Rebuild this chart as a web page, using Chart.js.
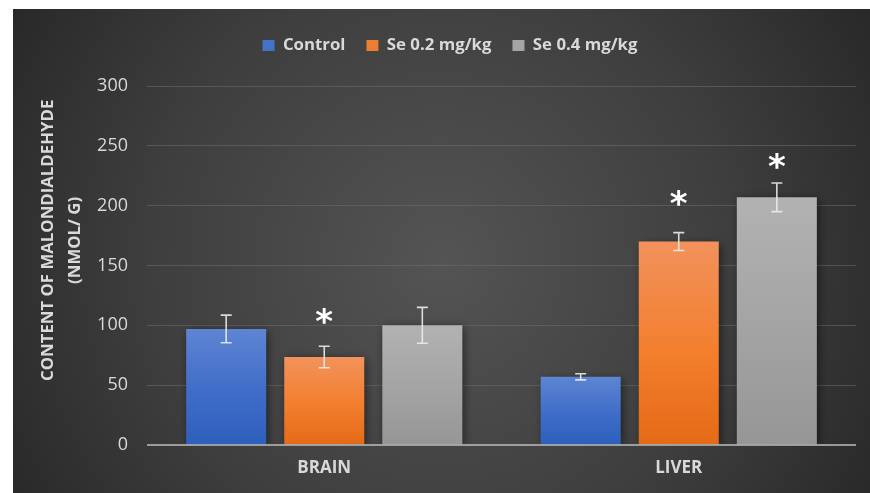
<!DOCTYPE html>
<html>
<head>
<meta charset="utf-8">
<script src="https://cdn.jsdelivr.net/npm/chart.js@4/dist/chart.umd.min.js"></script>
<style>
  html, body { margin: 0; padding: 0; background: #ffffff; }
  body { width: 870px; height: 493px; position: relative; overflow: hidden; }
  #panel { position: absolute; left: 13px; top: 9px; width: 857px; height: 484px; }
</style>
</head>
<body>
<div id="panel"><canvas id="chart"></canvas></div>
<script>
// Malondialdehyde content by tissue and selenium dose
const categories = ['BRAIN', 'LIVER'];
const seriesNames = ['Control', 'Se 0.2 mg/kg', 'Se 0.4 mg/kg'];
const controlValues = [97, 57];
const se02Values = [73.5, 170];
const se04Values = [100, 207];
const controlErrors = [11.5, 2.6];
const se02Errors = [9, 7.5];
const se04Errors = [15, 12];
// value at which a significance asterisk is placed (null = none)
const controlStars = [null, null];
const se02Stars = [108, 207];
const se04Stars = [null, 238];
const yTicks = [0, 50, 100, 150, 200, 250, 300];
const axisTitle = ['CONTENT OF MALONDIALDEHYDE', '(NMOL/ G)'];

const palette = [
  { solid: '#4472c4', top: '#5d85d3', mid: '#3f6cc8', bottom: '#2d5fbd' },
  { solid: '#ed7d31', top: '#f2925c', mid: '#f37e2c', bottom: '#e46a17' },
  { solid: '#a5a5a5', top: '#b2b2b2', mid: '#a3a3a3', bottom: '#969696' }
];
const textColor = '#d9d9d9';
const FONT = '"Open Sans", sans-serif';

function barFill(idx) {
  return (ctx) => {
    const chart = ctx.chart;
    if (!chart.chartArea || ctx.dataIndex === undefined || !chart.scales.y) return palette[idx].solid;
    const ys = chart.scales.y;
    const top = ys.getPixelForValue(ctx.raw);
    const bot = ys.getPixelForValue(0);
    if (!isFinite(top) || !isFinite(bot) || top === bot) return palette[idx].solid;
    const g = chart.ctx.createLinearGradient(0, top, 0, bot);
    g.addColorStop(0, palette[idx].top);
    g.addColorStop(0.55, palette[idx].mid);
    g.addColorStop(1, palette[idx].bottom);
    return g;
  };
}

const errorSets = [controlErrors, se02Errors, se04Errors];
const starSets = [controlStars, se02Stars, se04Stars];

const backgroundPlugin = {
  id: 'panelBackground',
  beforeDraw(chart) {
    const { ctx, width, height } = chart;
    ctx.save();
    const g = ctx.createRadialGradient(width * 0.5, height * 0.52, 0, width * 0.5, height * 0.52, width * 0.62);
    g.addColorStop(0, '#545454');
    g.addColorStop(0.55, '#3e3e3e');
    g.addColorStop(1, '#252525');
    ctx.fillStyle = g;
    ctx.fillRect(0, 0, width, height);
    ctx.restore();
  }
};

const shadowPlugin = {
  id: 'barShadow',
  beforeDatasetsDraw(chart) {
    const ctx = chart.ctx;
    ctx.save();
    ctx.shadowColor = 'rgba(0,0,0,0.55)';
    ctx.shadowBlur = 9;
    ctx.shadowOffsetX = 2;
    ctx.shadowOffsetY = 2;
  },
  afterDatasetsDraw(chart) {
    chart.ctx.restore();
  }
};

const overlayPlugin = {
  id: 'errorBarsAndMarks',
  afterDatasetsDraw(chart) {
    const { ctx, chartArea } = chart;
    const ys = chart.scales.y;
    ctx.save();
    // baseline
    const y0 = ys.getPixelForValue(0);
    ctx.strokeStyle = 'rgba(190,190,190,0.75)';
    ctx.lineWidth = 2;
    ctx.beginPath();
    ctx.moveTo(chartArea.left, y0);
    ctx.lineTo(chartArea.right, y0);
    ctx.stroke();

    chart.data.datasets.forEach((ds, i) => {
      const meta = chart.getDatasetMeta(i);
      meta.data.forEach((bar, j) => {
        const v = ds.data[j];
        const e = errorSets[i][j];
        const x = bar.x;
        const yt = ys.getPixelForValue(v + e);
        const yb = ys.getPixelForValue(v - e);
        ctx.strokeStyle = 'rgba(235,235,235,0.9)';
        ctx.lineWidth = 1.6;
        ctx.beginPath();
        ctx.moveTo(x, yt); ctx.lineTo(x, yb);
        ctx.moveTo(x - 5.5, yt); ctx.lineTo(x + 5.5, yt);
        ctx.moveTo(x - 5.5, yb); ctx.lineTo(x + 5.5, yb);
        ctx.stroke();

        const s = starSets[i][j];
        if (s !== null && s !== undefined) {
          const sy = ys.getPixelForValue(s);
          ctx.fillStyle = '#ffffff';
          ctx.font = 'bold 34px "DejaVu Sans", sans-serif';
          ctx.textAlign = 'center';
          ctx.textBaseline = 'alphabetic';
          ctx.fillText('*', x, sy + 0.6 * 34 - 3);
        }
      });
    });

    // vertical axis title
    ctx.fillStyle = textColor;
    ctx.font = 'bold 16.8px ' + FONT;
    ctx.textAlign = 'center';
    ctx.textBaseline = 'middle';
    const cy = chartArea.top + chartArea.height * 0.43;
    const xs = [chartArea.left - 99, chartArea.left - 72];
    axisTitle.forEach((line, k) => {
      ctx.save();
      ctx.translate(xs[k], cy);
      ctx.rotate(-Math.PI / 2);
      ctx.fillText(line, 0, 0);
      ctx.restore();
    });
    ctx.restore();
  }
};

const datasetValues = [controlValues, se02Values, se04Values];

new Chart(document.getElementById('chart'), {
  type: 'bar',
  data: {
    labels: categories,
    datasets: seriesNames.map((name, i) => ({
      label: name,
      data: datasetValues[i],
      backgroundColor: barFill(i),
      borderWidth: 0,
      categoryPercentage: 0.83,
      barPercentage: 0.816
    }))
  },
  options: {
    responsive: true,
    maintainAspectRatio: false,
    animation: false,
    devicePixelRatio: 1,
    layout: { padding: { left: 31, right: 14, top: 7, bottom: 0 } },
    plugins: {
      title: { display: false },
      // empty spacer below the legend
      subtitle: {
        display: true,
        text: '',
        weight: 500,
        font: { size: 1 },
        padding: { top: 21, bottom: 0 }
      },
      tooltip: { enabled: false },
      legend: {
        display: true,
        position: 'top',
        align: 'center',
        labels: {
          color: textColor,
          font: { family: FONT, size: 16.8, weight: 'bold' },
          boxWidth: 12,
          boxHeight: 11,
          padding: 21,
          generateLabels(chart) {
            return chart.data.datasets.map((ds, i) => ({
              text: ds.label,
              fillStyle: palette[i].solid,
              strokeStyle: palette[i].solid,
              lineWidth: 0,
              fontColor: textColor,
              hidden: false,
              datasetIndex: i
            }));
          }
        }
      }
    },
    scales: {
      x: {
        grid: { display: false, drawTicks: false },
        border: { display: false },
        ticks: {
          color: textColor,
          font: { family: FONT, size: 17, weight: 'bold' },
          padding: 13
        },
        afterFit(scale) { scale.height = 48; }
      },
      y: {
        min: 0,
        max: 300,
        afterBuildTicks(scale) { scale.ticks = yTicks.map(v => ({ value: v })); },
        grid: {
          color: (c) => (c.tick && c.tick.value === 0) ? 'rgba(0,0,0,0)' : 'rgba(110,110,110,0.55)',
          lineWidth: 1,
          drawTicks: false
        },
        border: { display: false },
        ticks: {
          color: textColor,
          font: { family: FONT, size: 18 },
          padding: 19
        },
        afterFit(scale) { scale.width = 103; }
      }
    }
  },
  plugins: [backgroundPlugin, shadowPlugin, overlayPlugin]
});
</script>
</body>
</html>
